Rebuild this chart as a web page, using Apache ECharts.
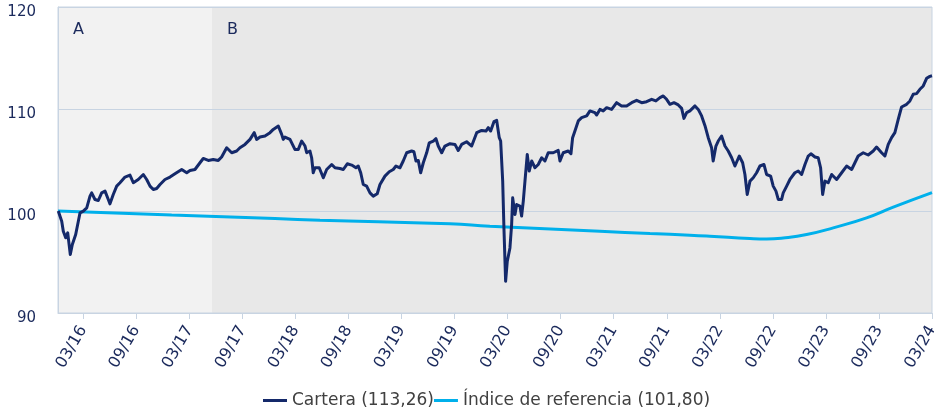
<!DOCTYPE html>
<html>
<head>
<meta charset="utf-8">
<script src="https://cdn.jsdelivr.net/npm/echarts@6/dist/echarts.min.js"></script>
<style>
  html, body { margin: 0; padding: 0; background: #ffffff; }
  #chart { width: 934px; height: 410px; }
</style>
</head>
<body>
<div id="chart"></div>
<script>
// eje x: meses desde 03/16
var tickMeses = [0, 6, 12, 18, 24, 30, 36, 42, 48, 54, 60, 66, 72, 78, 84, 90, 96];
var tickEtiquetas = ['03/16', '09/16', '03/17', '09/17', '03/18', '09/18', '03/19', '09/19',
    '03/20', '09/20', '03/21', '09/21', '03/22', '09/22', '03/23', '09/23', '03/24'];

// periodos A / B
var periodos = ['A', 'B'];
var periodoInicio = [-2.86, 14.56];
var periodoFin = [14.56, 96];

// Cartera
var carteraMes = [-2.83, -2.44, -2.26, -1.99, -1.76, -1.47, -1.24, -0.86, -0.56, -0.37,
    0.0, 0.39, 0.76, 0.95, 1.32, 1.70, 2.08, 2.46, 2.83, 3.02,
    3.39, 3.78, 4.15, 4.72, 5.28, 5.66, 6.22, 6.79, 7.17, 7.55,
    7.92, 8.30, 8.68, 9.24, 9.81, 10.37, 11.13, 11.70, 12.07, 12.63,
    13.20, 13.57, 14.14, 14.70, 15.27, 15.65, 16.22, 16.79, 17.35, 17.72,
    18.29, 18.86, 19.34, 19.61, 19.99, 20.55, 21.12, 21.49, 22.06, 22.44,
    22.62, 22.81, 23.38, 23.94, 24.32, 24.70, 25.08, 25.27, 25.64, 25.83,
    26.01, 26.21, 26.69, 27.15, 27.53, 28.10, 28.47, 29.03, 29.41, 29.86,
    30.36, 30.84, 31.10, 31.38, 31.67, 32.05, 32.43, 32.80, 33.25, 33.56,
    34.12, 34.61, 35.06, 35.37, 35.82, 36.19, 36.58, 37.14, 37.40, 37.63,
    37.89, 38.16, 38.46, 38.84, 39.13, 39.59, 39.89, 40.15, 40.54, 40.91,
    41.48, 42.04, 42.41, 42.80, 43.36, 43.93, 44.50, 45.06, 45.55, 45.81,
    46.08, 46.45, 46.76, 47.05, 47.21, 47.44, 47.58, 47.77, 47.96, 48.26,
    48.45, 48.57, 48.83, 49.02, 49.39, 49.58, 49.77, 49.96, 50.22, 50.44,
    50.72, 51.09, 51.46, 51.85, 52.22, 52.59, 53.16, 53.72, 53.92, 54.29,
    54.85, 55.16, 55.35, 55.61, 55.99, 56.37, 56.94, 57.31, 57.87, 58.07,
    58.44, 58.81, 59.20, 59.76, 60.33, 60.89, 61.46, 62.03, 62.59, 63.16,
    63.72, 64.29, 64.77, 65.23, 65.60, 65.98, 66.36, 66.81, 67.30, 67.68,
    67.94, 68.25, 68.62, 69.19, 69.56, 69.94, 70.32, 70.69, 71.07, 71.25,
    71.56, 71.82, 72.20, 72.58, 72.95, 73.34, 73.71, 74.20, 74.58, 74.84,
    75.10, 75.41, 75.78, 76.16, 76.54, 76.99, 77.29, 77.75, 78.04, 78.35,
    78.61, 78.99, 79.17, 79.56, 79.93, 80.49, 80.87, 81.25, 81.63, 82.00,
    82.30, 82.76, 83.13, 83.40, 83.63, 83.89, 84.26, 84.65, 85.21, 85.78,
    86.34, 86.91, 87.28, 87.65, 88.22, 88.78, 89.35, 89.73, 90.30, 90.67,
    91.05, 91.43, 91.80, 92.18, 92.56, 93.13, 93.50, 93.87, 94.26, 94.63,
    95.01, 95.39, 95.76, 96.0];
var carteraValor = [100.0, 99.0, 98.02, 97.37, 97.86, 95.73, 96.71, 97.69, 99.0, 99.82,
    99.99, 100.31, 101.46, 101.78, 101.13, 101.03, 101.78, 101.95, 101.13, 100.70,
    101.62, 102.44, 102.77, 103.33, 103.52, 102.77, 103.09, 103.58, 103.09, 102.44,
    102.11, 102.21, 102.60, 103.09, 103.33, 103.65, 104.07, 103.75, 103.97, 104.07,
    104.73, 105.15, 104.96, 105.05, 104.96, 105.29, 106.20, 105.71, 105.88, 106.20,
    106.53, 107.02, 107.68, 107.02, 107.25, 107.35, 107.68, 108.00, 108.33, 107.51,
    107.02, 107.25, 107.02, 106.04, 106.04, 106.86, 106.37, 105.71, 105.88, 105.22,
    103.75, 104.24, 104.24, 103.26, 104.07, 104.56, 104.24, 104.17, 104.07, 104.63,
    104.50, 104.24, 104.41, 103.75, 102.60, 102.44, 101.78, 101.46, 101.69, 102.60,
    103.42, 103.85, 104.07, 104.41, 104.24, 104.90, 105.71, 105.88, 105.81, 104.90,
    104.96, 103.75, 104.73, 105.71, 106.69, 106.86, 107.09, 106.37, 105.71, 106.37,
    106.60, 106.53, 105.94, 106.53, 106.79, 106.37, 107.68, 107.90, 107.84, 108.17,
    107.84, 108.76, 108.88, 107.19, 106.86, 102.93, 98.35, 93.11, 95.08, 96.38,
    98.67, 101.29, 99.65, 100.63, 100.48, 99.50, 100.97, 102.93, 105.55, 103.92,
    104.90, 104.24, 104.56, 105.22, 104.90, 105.71, 105.71, 105.94, 104.90, 105.71,
    105.88, 105.61, 107.19, 107.84, 108.83, 109.15, 109.32, 109.81, 109.64, 109.41,
    109.96, 109.81, 110.13, 109.96, 110.62, 110.30, 110.30, 110.62, 110.85, 110.62,
    110.72, 110.95, 110.79, 111.11, 111.28, 110.95, 110.46, 110.62, 110.40, 110.06,
    109.08, 109.64, 109.81, 110.30, 109.96, 109.32, 108.36, 107.19, 106.20, 104.90,
    106.37, 106.86, 107.35, 106.37, 105.88, 105.22, 104.41, 105.39, 104.73, 103.58,
    101.62, 102.93, 103.26, 103.75, 104.41, 104.56, 103.58, 103.42, 102.44, 101.95,
    101.13, 101.13, 101.78, 102.44, 103.09, 103.75, 103.92, 103.58, 104.56, 105.39,
    105.61, 105.29, 105.22, 104.24, 101.62, 102.93, 102.77, 103.58, 103.09, 103.75,
    104.41, 104.07, 104.73, 105.39, 105.71, 105.49, 105.88, 106.27, 105.71, 105.39,
    106.53, 107.19, 107.68, 108.98, 110.20, 110.46, 110.79, 111.44, 111.51, 111.93,
    112.26, 113.01, 113.20, 113.26];

// Índice de referencia
var indiceMes = [-2.86, 10.0, 21.68, 26.77, 41.48, 45.99, 58.44, 64.1, 68.62, 70.88,
    75.4, 77.29, 79.17, 81.82, 84.83, 88.6, 91.62, 96.0];
var indiceValor = [100.0, 99.6, 99.26, 99.10, 98.74, 98.51, 98.02, 97.79, 97.63, 97.53,
    97.30, 97.25, 97.35, 97.69, 98.35, 99.33, 100.38, 101.80];

var nombres = ['Cartera (113,26)', 'Índice de referencia (101,80)'];

var chart = echarts.init(document.getElementById('chart'));

var carteraData = carteraMes.map(function (m, i) { return [m, carteraValor[i]]; });
var indiceData = indiceMes.map(function (m, i) { return [m, indiceValor[i]]; });

var areas = periodos.map(function (p, i) {
    return [{
        name: p,
        xAxis: periodoInicio[i],
        itemStyle: { color: i === 0 ? '#f2f2f2' : '#e8e8e8' }
    }, { xAxis: periodoFin[i] }];
});

var navy = '#1b2a5c';

var option = {
    animation: false,
    grid: {
        left: 58,
        right: 2,
        top: 7,
        bottom: 97,
        outerBoundsMode: 'none',
        show: true,
        z: 1.5,
        borderColor: '#c8d4e2',
        borderWidth: 1,
        backgroundColor: 'transparent'
    },
    legend: {
        left: 258,
        top: 387,
        itemGap: 0,
        itemWidth: 24,
        itemHeight: 3,
        icon: 'rect',
        textStyle: { fontFamily: 'DejaVu Sans', fontSize: 17, color: '#404040' },
        data: nombres
    },
    xAxis: {
        type: 'value',
        min: -2.86,
        max: 96,
        z: 1.5,
        splitLine: { show: false },
        axisLine: { show: true, onZero: false, lineStyle: { color: '#c8d4e2', width: 1 } },
        axisTick: { show: true, length: 6, lineStyle: { color: '#c8d4e2' }, customValues: tickMeses },
        axisLabel: {
            customValues: tickMeses,
            rotate: 60,
            margin: 14,
            fontFamily: 'DejaVu Sans',
            fontSize: 16,
            color: navy,
            formatter: function (v) {
                var i = tickMeses.indexOf(v);
                return i >= 0 ? tickEtiquetas[i] : '';
            }
        }
    },
    yAxis: {
        type: 'value',
        min: 90,
        max: 120,
        interval: 10,
        z: 1.5,
        axisLine: { show: true, onZero: false, lineStyle: { color: '#c8d4e2' } },
        axisTick: { show: false },
        splitLine: { show: true, lineStyle: { color: '#c8d4e2', width: 1 } },
        axisLabel: {
            margin: 22,
            verticalAlign: 'top',
            lineHeight: 11,
            fontFamily: 'DejaVu Sans',
            fontSize: 15,
            color: navy
        }
    },
    series: [
        {
            // sombreado de periodos, por debajo de la rejilla
            type: 'line',
            data: [],
            z: -1,
            silent: true,
            markArea: {
                silent: true,
                z: -1,
                label: {
                    show: true,
                    position: 'insideTopLeft',
                    distance: 5,
                    offset: [10, 10],
                    fontFamily: 'DejaVu Sans',
                    fontSize: 16,
                    color: navy
                },
                data: areas
            }
        },
        {
            name: nombres[1],
            type: 'line',
            data: indiceData,
            smooth: true,
            showSymbol: false,
            z: 3,
            lineStyle: { color: '#00b0eb', width: 3 },
            itemStyle: { color: '#00b0eb' }
        },
        {
            name: nombres[0],
            type: 'line',
            data: carteraData,
            showSymbol: false,
            z: 4,
            lineStyle: { color: '#14296a', width: 3, join: 'round' },
            itemStyle: { color: '#14296a' }
        }
    ]
};

chart.setOption(option, true);
</script>
</body>
</html>
